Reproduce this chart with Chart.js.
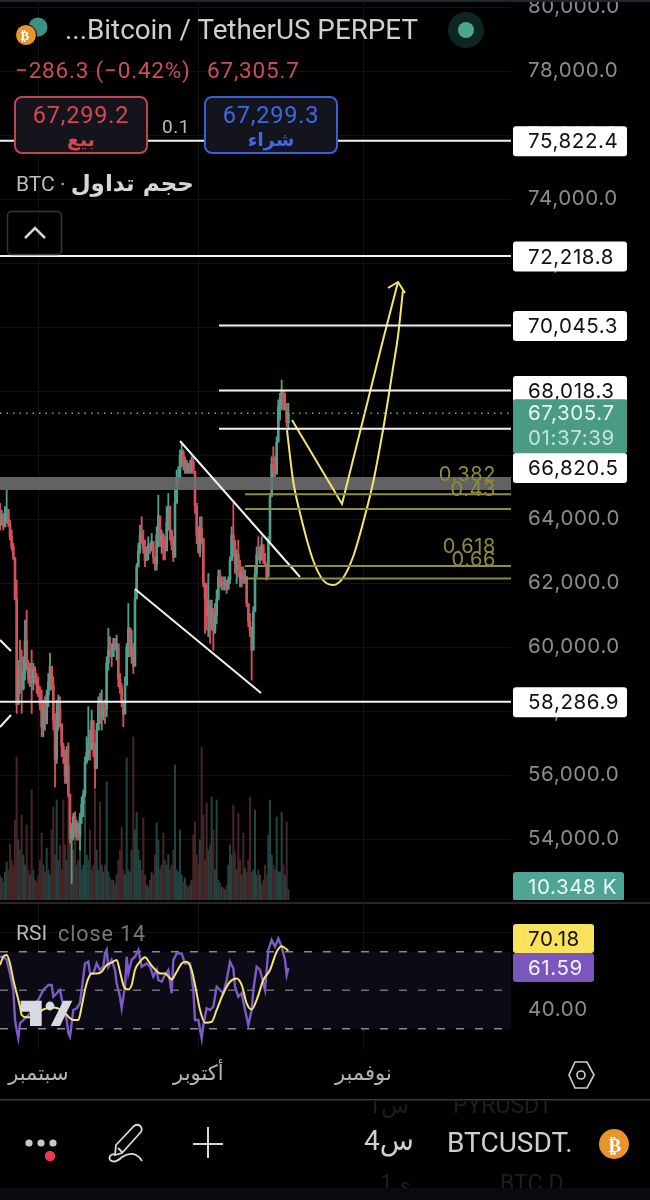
<!DOCTYPE html>
<html>
<head>
<meta charset="utf-8">
<script src="https://cdn.jsdelivr.net/npm/chart.js@4"></script>
<style>
  html, body { margin: 0; padding: 0; background: #000; }
  body { position: relative; width: 650px; height: 1200px; overflow: hidden; font-family: Roboto, "DejaVu Sans", sans-serif; }
  canvas { position: absolute; left: 0; display: block; }
  #priceChart { top: 0; }
  #rsiChart { top: 904px; }
  .txt { position: absolute; white-space: nowrap; line-height: 1; }
  .box { position: absolute; box-sizing: border-box; background: #14141c; border-radius: 8px; border: 2px solid; text-align: center; top: 96px; height: 58px; width: 134px; }
  .box b { display: block; font-weight: 400; font-size: 23.5px; letter-spacing: .8px; margin-top: 5px; line-height: 25px; }
  .box i { display: block; font-style: normal; font-weight: 700; font-size: 19px; line-height: 22px; font-family: "DejaVu Sans", sans-serif; }
  svg { position: absolute; left: 0; top: 0; }
</style>
</head>
<body>
<canvas id="priceChart" width="650" height="900"></canvas>
<canvas id="rsiChart" width="650" height="195"></canvas>

<svg width="650" height="1200" viewBox="0 0 650 1200">
  <rect x="0" y="0" width="650" height="2" fill="#22252b"/>
  <rect x="0" y="902" width="650" height="2" fill="#26262c"/>
  <rect x="0" y="1099" width="650" height="1.5" fill="#3a3848"/>
  <rect x="0" y="1188" width="650" height="12" fill="#0a0a0f"/>
  <!-- coin icons -->
  <circle cx="38" cy="27" r="9.5" fill="#3f8f86"/>
  <circle cx="26" cy="35" r="10.5" fill="#e8952e" stroke="#000" stroke-width="1"/>
  <circle cx="466" cy="30" r="18" fill="#0e2621"/>
  <circle cx="466" cy="30" r="8" fill="#4fa48d"/>
  <!-- collapse button -->
  <rect x="7.5" y="211.5" width="54" height="43" rx="4" fill="none" stroke="#34343a" stroke-width="1.5"/>
  <path d="M25 238 L35 228 L45 238" fill="none" stroke="#d4d4d4" stroke-width="2.5"/>
  <!-- tradingview mark -->
  <path d="M20.7 1000.7 H41.7 V1026 H30 V1011.7 H20.7 Z" fill="#d8dae2"/>
  <circle cx="50" cy="1006" r="4.4" fill="#d8dae2"/>
  <path d="M63.3 1000.7 H72.3 L60 1026 H50.7 Z" fill="#d8dae2"/>
  <!-- settings hexagon -->
  <path d="M575 1062 H587 L594 1075 L587 1088 H575 L569 1075 Z" fill="none" stroke="#cfcfcf" stroke-width="1.6"/>
  <circle cx="581" cy="1075" r="4" fill="none" stroke="#cfcfcf" stroke-width="1.6"/>
  <!-- bottom bar icons -->
  <circle cx="614" cy="1144" r="15" fill="#e8952e"/>
  <path d="M208 1127 V1158 M193 1144 H223" stroke="#d8d8d8" stroke-width="2" fill="none"/>
  <path d="M116 1145 L134 1126 Q138 1123 141 1127 Q143 1130 140 1133 L122 1153 L115 1155 Z M118 1148 L122 1152 M110 1160 Q108 1155 114 1154 M110 1160 Q115 1164 122 1157 Q130 1152 136 1155 Q140 1157 142 1161" fill="none" stroke="#d8d8d8" stroke-width="1.8"/>
  <circle cx="29" cy="1143" r="3.6" fill="#c8c8c8"/>
  <circle cx="41" cy="1143" r="3.6" fill="#c8c8c8"/>
  <circle cx="53" cy="1143" r="3.6" fill="#c8c8c8"/>
  <circle cx="50" cy="1156" r="5.2" fill="#e8374f"/>
</svg>

<div class="txt" style="left:20.5px;top:27.5px;font:700 13px 'DejaVu Sans';color:#fff">₿</div>
<div class="txt" style="left:608.5px;top:1134px;font:700 19px 'DejaVu Sans';color:#fff">₿</div>

<div class="txt" style="left:65px;top:16px;font-size:27.8px;color:#cfcfcf">...Bitcoin / TetherUS PERPET</div>
<div class="txt" style="left:15px;top:59px;font-size:22.5px;letter-spacing:.8px;color:#c94f57">−286.3 (−0.42%)</div>
<div class="txt" style="left:207px;top:59px;font-size:22.5px;letter-spacing:.8px;color:#c94f57">67,305.7</div>

<div class="box" style="left:14px;border-color:#bf4650;color:#d8474f"><b>67,299.2</b><i>بيع</i></div>
<div class="txt" style="left:162px;top:117px;font-size:19px;letter-spacing:.5px;color:#bdbdbd">0.1</div>
<div class="box" style="left:204px;border-color:#3a5fd6;color:#3f68e4"><b>67,299.3</b><i>شراء</i></div>

<div class="txt" style="left:16px;top:172px;font-size:21px;color:#bdbdbd">BTC · <span style="font-family:'DejaVu Sans';font-weight:700;font-size:23px;color:#d6d6d6">حجم تداول</span></div>

<div class="txt" style="left:16px;top:923px;font-size:21px;color:#b8b8b8">RSI</div>
<div class="txt" style="left:58px;top:923px;font-size:21.5px;letter-spacing:.9px;color:#777">close 14</div>

<div style="position:absolute;left:0;top:1100px;width:650px;height:88px;overflow:hidden">
  <div class="txt" style="left:453px;top:-6px;font-size:23px;color:#1e1e22">PYRUSDT</div>
  <div class="txt" style="left:368px;top:-6px;font-size:23px;color:#1e1e22">1س</div>
  <div class="txt" style="left:500px;top:72px;font-size:23px;color:#1e1e22">BTC.D</div>
  <div class="txt" style="left:380px;top:72px;font-size:23px;color:#1e1e22">1ي</div>
</div>
<div class="txt" style="left:447px;top:1129px;font-size:28px;color:#cfcfcf">BTCUSDT.</div>
<div class="txt" style="left:364px;top:1127px;font-size:28px;color:#cfcfcf">4س</div>

<script>
// ---------- DATA ----------
const firstOpen = 63900;

const highs = [
  64490, 64280, 64175, 64385, 64905, 64175, 63970, 63655, 63240, 62720,
  62090, 59590, 60215, 59905, 59695, 60840, 61150, 59590, 59490, 59905,
  59490, 59385, 59175, 59070, 58760, 58655, 58340, 58445, 58655, 59175,
  59800, 59280, 59070, 57925, 58340, 58500, 58445, 57510, 56990, 56780,
  56885, 56990, 55320, 54485, 54800, 54850, 54590, 54485, 54800, 55320,
  55530, 56570, 57195, 58135, 57405, 58030, 57405, 56780, 57615, 58445,
  58550, 58655, 58240, 58340, 59695, 60580, 60320, 60110, 60270, 60270,
  60370, 60010, 59175, 58865, 58340, 59070, 60110, 61360, 60530, 60530,
  60110, 61780, 62610, 63240, 63810, 64070, 63655, 63340, 63135, 63445,
  63240, 63550, 63135, 62820, 63760, 64750, 63760, 63655, 63550, 63445,
  64385, 64800, 64070, 63655,
  63445, 64905, 65530, 65635, 66155, 66365, 66155, 65945, 65840, 65740,
  65840, 65945, 65945, 65425, 64490, 63760, 64070, 64070, 63340, 61880,
  61985, 62300, 61465, 61465, 61050, 61360, 61780, 62405, 62405, 62195,
  62195, 62195, 61985, 62195, 62820, 63760, 64490, 63340, 63030, 63340,
  62715, 62510, 62510, 62405, 62195, 61360, 61050, 60630, 61255, 62510,
  63130, 63445, 63130, 63445, 63030, 62925, 62610, 63445, 64800, 65945,
  66260, 65945, 66570, 67720, 67925, 68340, 68030, 67925, 67615, 67615,
];

const lows = [
  63655, 63865, 63655, 63760, 63865, 63760, 63340, 63030, 62720, 61470,
  57925, 58445, 58550, 57925, 58655, 58970, 59280, 58865, 58760, 57925,
  58655, 58865, 58550, 58445, 58030, 57195, 57195, 57405, 58135, 58135,
  58655, 58655, 57405, 55630, 56360, 57405, 57510, 56570, 56360, 55735,
  55735, 55320, 53860, 52610, 53965, 54070, 53965, 53965, 53650, 54485,
  54695, 55320, 56360, 56465, 56465, 56780, 56570, 55580, 56675, 57405,
  57615, 57405, 57720, 57615, 57820, 59280, 59695, 59385, 59905, 59905,
  59590, 58760, 58550, 58135, 57510, 57925, 59070, 59695, 59695, 59490,
  59175, 59400, 61780, 62610, 62925, 63240, 62925, 62510, 62820, 62720,
  62925, 63030, 62610, 62400, 62400, 63135, 63135, 62925, 62720, 62720,
  63550, 63655, 63340, 63030,
  62665, 63340, 64490, 65110, 65320, 65635, 65530, 65425, 65425, 65425,
  65425, 65425, 65425, 64175, 63235, 62925, 62820, 63235, 61880, 60425,
  60530, 60320, 60110, 60530, 59900, 60425, 60735, 61465, 61880, 61780,
  61780, 61780, 61675, 61880, 61985, 62715, 62820, 62300, 61985, 62195,
  61880, 61880, 61985, 61985, 61255, 60630, 60320, 58965, 60425, 61150,
  62195, 62715, 62610, 62715, 62610, 62510, 62090, 62510, 63235, 64800,
  65320, 65320, 65635, 66780, 67090, 67405, 67405, 67405, 66885, 66780,
];

const closes = [
  63800, 64100, 63750, 64200, 64300, 63850, 63450, 63130, 62800, 61500,
  58200, 59300, 59000, 58700, 59200, 60200, 59500, 59000, 59350, 58900,
  59300, 59000, 58800, 58500, 58200, 57500, 58100, 57600, 58500, 58900,
  59400, 58800, 57700, 56500, 57500, 58100, 57600, 56900, 56600, 56000,
  56300, 55400, 54000, 54300, 54700, 54200, 54500, 54100, 54700, 55100,
  55400, 56400, 56700, 57000, 56800, 57700, 57000, 56200, 57400, 58200,
  57900, 58000, 58100, 58050, 59500, 59900, 59800, 59700, 60100, 60000,
  60100, 59000, 58700, 58300, 57900, 58800, 60000, 60600, 59900, 60000,
  59400, 61500, 62500, 63000, 63500, 63300, 63100, 62700, 62950, 63200,
  63000, 63300, 62800, 62600, 63500, 64100, 63300, 63500, 63100, 63000,
  63900, 64400, 63600, 63200,
  62800, 64500, 65300, 65300, 66000, 66100, 65700, 65800, 65500, 65650,
  65500, 65800, 65500, 64400, 63500, 63000, 63700, 63400, 62000, 61500,
  61000, 61300, 60700, 61200, 60500, 61000, 61500, 62200, 62000, 62050,
  61950, 62100, 61800, 62100, 62700, 63500, 63300, 62600, 62900, 62400,
  62100, 62300, 62100, 62200, 61350, 60800, 60500, 59900, 61100, 62300,
  62900, 62800, 62900, 63200, 62700, 62600, 62200, 63300, 64700, 65700,
  65500, 65400, 66400, 67500, 67800, 68000, 67500, 67500, 67000, 67305.7,
];

// volume in thousands of BTC
const volumes = [
  25, 22, 18, 28, 38, 30, 56, 40, 35, 80,
  143, 60, 50, 85, 45, 35, 75, 30, 25, 110,
  30, 20, 18, 25, 40, 67, 35, 28, 52, 30,
  25, 70, 93, 45, 100, 40, 55, 30, 100, 55,
  40, 158, 60, 35, 50, 75, 35, 40, 53, 30,
  35, 110, 45, 40, 70, 30, 35, 110, 50, 30,
  98, 35, 28, 35, 118, 28, 22, 20, 20, 15,
  25, 40, 50, 73, 30, 25, 142, 30, 28, 50,
  163, 70, 88, 50, 40, 30, 82, 25, 15, 13,
  20, 28, 25, 45, 77, 60, 30, 35, 67, 40,
  35, 45, 30, 35, 50, 135, 30, 28, 70, 25,
  18, 22, 15, 13, 15, 20, 65, 78, 45, 35,
  60, 153, 85, 40, 97, 50, 55, 103, 70, 30,
  100, 20, 17, 13, 12, 10, 15, 35, 55, 45,
  95, 48, 30, 87, 40, 25, 67, 32, 28, 40,
  103, 28, 30, 90, 25, 30, 25, 15, 20, 35,
  25, 65, 100, 45, 35, 30, 83, 28, 28, 88,
  35, 25, 78, 10.348,
];

const priceTicks = [54000, 56000, 58000, 60000, 62000, 64000, 66000, 68000, 70000, 72000, 74000, 76000, 78000, 80000];
const monthTicks = [23, 119, 218];
const monthLabels = ["سبتمبر", "أكتوبر", "نوفمبر"];

const lastPrice = 67305.7;
const countdown = "01:37:39";
const lastVolume = "10.348 K";

// horizontal levels, full width and the ones that start mid chart
const fullLevels = [75822.4, 72218.8, 58286.9];
const shortLevels = [70045.3, 68018.3, 66820.5];
const shortLevelStart = 131.4;
const lastIndex = 306.6;

const zoneTop = 65313;
const zoneBottom = 64906;

const fibValues = [64772, 64313, 62531, 62141];
const fibLabels = ["0.382", "0.43", "0.618", "0.66"];
const fibStart = 147;

// wedge drawn by the author: [index, price] pairs
const wedgeUpper = [[108, 66438], [180, 62188]];
const wedgeLower = [[81, 61813], [156.6, 58563]];
const leftStubA = [[0, 60219], [6.6, 59875]];
const leftStubB = [[0, 57500], [6.6, 57875]];

// projected paths in yellow
const pathZigzag = [[175.2, 67094], [205.2, 64469], [220.8, 67719], [229.8, 69594], [238.8, 71406]];
const pathArrow = [[232.8, 71219], [238.8, 71406], [243, 71063]];
const pathCurveX = [172.2, 175.8, 180, 187.8, 193.8, 199.8, 205.8, 211.8, 217.8, 223.8, 229.8, 232.8, 235.8, 238.8, 241.8];
const pathCurveY = [66781, 65219, 64188, 62719, 62094, 61938, 62156, 62813, 63875, 65125, 66781, 67719, 68719, 69719, 71156];

// RSI panel
const rsiX = [
  0, 2, 4, 6, 8, 9, 10, 11, 12, 14, 16, 18, 20, 23, 26, 29, 31, 32, 34, 36,
  38, 40, 41, 42, 43, 44, 46, 48, 50, 51, 53, 54, 56, 58, 60, 62, 63, 64, 65, 67,
  69, 70, 72, 73, 75, 76, 77, 79, 81, 83, 85, 88, 90, 92, 94, 95, 97, 99, 101, 103,
  104, 106, 109, 111, 114, 116, 117, 119, 121, 122, 124, 126, 128, 130, 132, 134, 136, 138, 140, 141,
  143, 145, 147, 149, 151, 152, 154, 156, 159, 161, 163, 165, 167, 169, 171, 172, 173,
];
const rsiValues = [
  67.4, 67.4, 65.7, 58.7, 50.1, 34.5, 29.3, 25, 32.8, 34.5, 36.2, 38, 42, 45, 50.1, 52.7, 52.7, 46.6, 48.4, 50.1,
  41.4, 34.5, 27.6, 25.8, 32.8, 39.7, 40.6, 43.2, 57, 63.9, 64.8, 58.7, 58.7, 63.9, 60.5, 62.2, 69.1, 70.9, 62.2, 65.7,
  60.5, 53.5, 46.6, 40.6, 51.8, 67.4, 58.7, 65.7, 67.4, 70.9, 62.2, 63.9, 62.2, 57, 60.5, 55.3, 54.4, 57.9, 60.5, 48.4,
  65.7, 69.1, 69.1, 63.9, 63.9, 50.1, 34.5, 34.5, 25, 31.9, 40.6, 39.7, 41.4, 51.8, 50.1, 48.4, 55.3, 64.8, 61.3, 51.8,
  46.6, 48.4, 39.7, 31.9, 39.7, 50.1, 62.2, 60.5, 50.1, 70.9, 76.1, 72.6, 76.9, 72.6, 65.7, 57.9, 61.59,
];
const rsiMaX = [
  0, 2, 4, 6, 8, 10, 12, 13, 16, 20, 26, 32, 38, 42, 44, 47, 49, 51, 53, 55,
  58, 61, 64, 67, 70, 72, 74.4, 77, 79, 81, 84, 87, 90, 93, 96, 99, 103, 106, 109, 112,
  115, 118, 120, 123, 127, 130, 134, 138, 142, 145, 148, 151, 154, 158, 162, 166, 169, 173,
];
const rsiMaValues = [
  63.1, 67.4, 68.3, 63.9, 55.3, 48.4, 41.4, 37.1, 35.9, 36, 40, 41, 39, 35.4, 34.5, 34.5, 41.4, 50.1, 56.1, 58.7,
  58.7, 59.6, 63.1, 64.3, 65.7, 59.6, 51.8, 50.4, 52.7, 60.5, 64.8, 67.1, 63.9, 60.8, 58.7, 58.7, 55.6, 59.6, 63.9, 64.8,
  60.5, 48.4, 39.7, 33.1, 33.6, 39.7, 48.4, 54.4, 56.1, 52.7, 43.2, 40, 44.9, 55.3, 60.5, 70, 72.9, 70.5,
];
const rsiMaLast = 70.18;
const rsiTicks = [40, 60, 80];
const rsiLevels = [70, 50, 30];
const rsiLevelEnd = 303;

// ---------- COLORS ----------
const TEAL = "#4e9f8b";
const RED = "#d64f5b";
const VOL_TEAL = "#1f4442";
const VOL_RED = "#472425";
const GRID = "#121214";
const AXIS_TEXT = "#8c8c8c";
const YELLOW = "#f2e66c";
const OLIVE = "#928c3e";
const WHITE = "#f2f2f2";

const TAG_FONT = "20.5px Inter, Roboto, sans-serif";

// ---------- HELPERS ----------
const opens = closes.map((c, i) => (i === 0 ? firstOpen : closes[i - 1]));
const isUp = closes.map((c, i) => c >= opens[i]);
const pairs = (list) => list.map(([x, y]) => ({ x, y }));
const zip = (xs, ys) => xs.map((x, i) => ({ x, y: ys[i] }));
const fmtPrice = (v) => v.toLocaleString("en-US", { minimumFractionDigits: 1, maximumFractionDigits: 1 });
const noPadding = (s) => { s.paddingTop = 0; s.paddingBottom = 0; s.paddingLeft = 0; s.paddingRight = 0; };

function lineSet(data, color, width, extra) {
  return Object.assign({
    type: "line",
    data,
    borderColor: color,
    borderWidth: width,
    pointRadius: 0,
    tension: 0,
    fill: false,
    order: 1,
  }, extra);
}

function drawTag(ctx, text, top, left, width, height, bg, fg) {
  ctx.fillStyle = bg;
  ctx.beginPath();
  ctx.roundRect(left, top, width, height, 3);
  ctx.fill();
  ctx.fillStyle = fg;
  ctx.textAlign = "left";
  ctx.textBaseline = "middle";
  ctx.fillText(text, left + 15, top + height / 2 + 1);
}

// ---------- PLUGINS ----------
const priceTagsPlugin = {
  id: "priceTags",
  afterDraw(chart) {
    const { ctx, scales } = chart;
    ctx.save();
    ctx.letterSpacing = "0.6px";

    // fib ratio labels sit above their line
    ctx.font = "20px Inter, Roboto, sans-serif";
    ctx.fillStyle = "#8f8a3c";
    ctx.textAlign = "right";
    ctx.textBaseline = "middle";
    fibValues.forEach((v, i) => {
      ctx.fillText(fibLabels[i], 496, scales.y.getPixelForValue(v) - 19);
    });

    ctx.font = TAG_FONT;
    [...fullLevels, ...shortLevels].forEach((v) => {
      let mid = scales.y.getPixelForValue(v);
      if (v === 66820.5) mid = 467.5; // pushed under the last price tag
      drawTag(ctx, fmtPrice(v), mid - 14.5, 513, 114, 30, "#ffffff", "#111111");
    });

    // last price with countdown
    const lastY = scales.y.getPixelForValue(lastPrice);
    ctx.fillStyle = "#4a9b86";
    ctx.beginPath();
    ctx.roundRect(513, lastY - 14, 114, 54, 2);
    ctx.fill();
    ctx.fillStyle = "#eaf5f1";
    ctx.textAlign = "left";
    ctx.fillText(fmtPrice(lastPrice), 528, lastY + 1);
    ctx.fillStyle = "#c4e4da";
    ctx.fillText(countdown, 528, lastY + 26);

    drawTag(ctx, lastVolume, 872, 513, 111, 29, "#4fa595", "#eef7f4");
    ctx.restore();
  },
};

const rsiTagsPlugin = {
  id: "rsiTags",
  afterDraw(chart) {
    const { ctx } = chart;
    ctx.save();
    ctx.font = TAG_FONT;
    ctx.letterSpacing = "0.6px";
    drawTag(ctx, rsiMaLast.toFixed(2), 20, 513, 81, 29, "#fbe25c", "#111111");
    drawTag(ctx, rsiValues[rsiValues.length - 1].toFixed(2), 49, 513, 81, 29, "#7b57bd", "#f2f2f2");
    ctx.restore();
  },
};

const spacedTextPlugin = {
  id: "spacedText",
  beforeDraw(chart) {
    chart.ctx.letterSpacing = "0.6px";
  },
};

// ---------- PRICE CHART ----------
const xScale = (showLabels) => ({
  type: "linear",
  min: 0,
  max: lastIndex,
  offset: false,
  border: { display: false },
  grid: { color: GRID, offset: false, drawTicks: false },
  afterBuildTicks: (s) => { s.ticks = monthTicks.map((value) => ({ value })); },
  afterFit: (s) => { s.height = showLabels ? 49 : 0; noPadding(s); },
  ticks: {
    display: showLabels,
    autoSkip: false,
    maxRotation: 0,
    padding: 12,
    color: "#b4b4b4",
    font: { family: "'DejaVu Sans', sans-serif", size: 21 },
    callback: (v) => monthLabels[monthTicks.indexOf(v)],
  },
});

const priceChart = new Chart(document.getElementById("priceChart").getContext("2d"), {
  type: "bar",
  data: {
    datasets: [
      lineSet(zip([0, lastIndex], [zoneTop, zoneTop]), "transparent", 0, {
        fill: { target: { value: zoneBottom } },
        backgroundColor: "rgba(112,112,112,0.88)",
        order: 2,
      }),
      lineSet(zip([0, lastIndex], [lastPrice, lastPrice]), "#5fb7a1", 1.5, { borderDash: [1.5, 5] }),
      ...fullLevels.map((v) => lineSet(zip([0, lastIndex], [v, v]), WHITE, 2)),
      ...shortLevels.map((v) => lineSet(zip([shortLevelStart, lastIndex], [v, v]), WHITE, 2)),
      ...fibValues.map((v) => lineSet(zip([fibStart, lastIndex], [v, v]), OLIVE, 2)),
      lineSet(pairs(wedgeUpper), WHITE, 2),
      lineSet(pairs(wedgeLower), WHITE, 2),
      lineSet(pairs(leftStubA), WHITE, 2),
      lineSet(pairs(leftStubB), WHITE, 2),
      lineSet(pairs(pathZigzag), YELLOW, 2),
      lineSet(pairs(pathArrow), YELLOW, 2),
      lineSet(zip(pathCurveX, pathCurveY), YELLOW, 2, { tension: 0.4, cubicInterpolationMode: "monotone" }),
      {
        label: "body",
        data: closes.map((c, i) => ({ x: i, y: [opens[i], c] })),
        backgroundColor: isUp.map((u) => (u ? TEAL : RED)),
        barThickness: 2,
        yAxisID: "y",
        order: 3,
      },
      {
        label: "wick",
        data: closes.map((c, i) => ({ x: i, y: [lows[i], highs[i]] })),
        backgroundColor: isUp.map((u) => (u ? TEAL : RED)),
        barThickness: 1.2,
        yAxisID: "y",
        order: 4,
      },
      {
        label: "volume",
        data: volumes.map((v, i) => ({ x: i, y: v })),
        backgroundColor: isUp.map((u) => (u ? VOL_TEAL : VOL_RED)),
        barThickness: 1.4,
        yAxisID: "yVol",
        order: 5,
      },
    ],
  },
  options: {
    responsive: false,
    animation: false,
    events: [],
    layout: { padding: 0 },
    datasets: { bar: { grouped: false } },
    plugins: { legend: { display: false }, tooltip: { enabled: false } },
    scales: {
      x: xScale(false),
      y: {
        position: "right",
        min: 52094,
        max: 80219,
        border: { display: false },
        grid: { color: GRID, drawTicks: false },
        afterBuildTicks: (s) => { s.ticks = priceTicks.map((value) => ({ value })); },
        afterFit: (s) => { s.width = 139; noPadding(s); },
        ticks: {
          padding: 17,
          color: AXIS_TEXT,
          font: { family: "Inter, Roboto, sans-serif", size: 20.5 },
          callback: (v) => fmtPrice(v),
        },
      },
      yVol: { display: false, position: "left", min: 0, max: 900 },
    },
  },
  plugins: [spacedTextPlugin, priceTagsPlugin],
});

// ---------- RSI CHART ----------
const rsiChart = new Chart(document.getElementById("rsiChart").getContext("2d"), {
  type: "line",
  data: {
    datasets: [
      lineSet(zip([0, lastIndex], [rsiLevels[0], rsiLevels[0]]), "transparent", 0, {
        fill: { target: { value: rsiLevels[2] } },
        backgroundColor: "#0c0a14",
        order: 6,
      }),
      ...rsiLevels.map((v) => lineSet(zip([0, rsiLevelEnd], [v, v]), v === 50 ? "#6e6e6e" : "#8a8a8a", 1.5, { borderDash: [8, 11], order: 4 })),
      lineSet(zip(rsiX, rsiValues), "#7a5cc4", 2.4, { order: 2 }),
      lineSet(zip(rsiMaX, rsiMaValues), YELLOW, 2, { order: 1, tension: 0.4, cubicInterpolationMode: "monotone" }),
    ],
  },
  options: {
    responsive: false,
    animation: false,
    events: [],
    layout: { padding: 0 },
    plugins: { legend: { display: false }, tooltip: { enabled: false } },
    scales: {
      x: xScale(true),
      y: {
        position: "right",
        min: 18.9,
        max: 94.8,
        border: { display: false },
        grid: { color: GRID, drawTicks: false },
        afterBuildTicks: (s) => { s.ticks = rsiTicks.map((value) => ({ value })); },
        afterFit: (s) => { s.width = 139; noPadding(s); },
        ticks: {
          padding: 17,
          color: AXIS_TEXT,
          font: { family: "Inter, Roboto, sans-serif", size: 20.5 },
          callback: (v) => v.toFixed(2),
        },
      },
    },
  },
  plugins: [spacedTextPlugin, rsiTagsPlugin],
});
</script>
</body>
</html>
